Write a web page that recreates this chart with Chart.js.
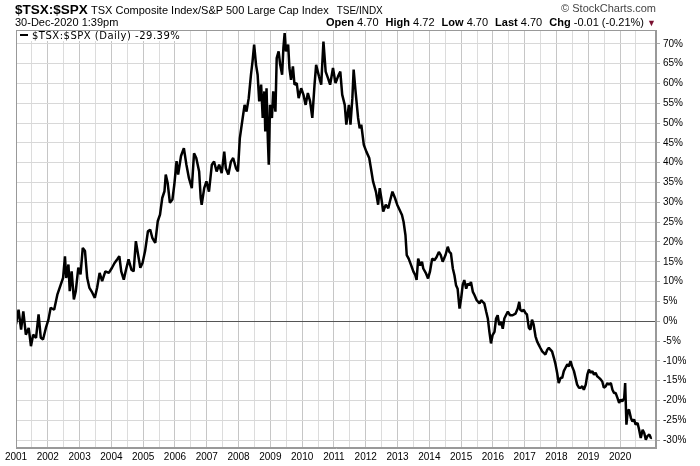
<!DOCTYPE html>
<html>
<head>
<meta charset="utf-8">
<script src="https://cdn.jsdelivr.net/npm/chart.js@4.4.1/dist/chart.umd.min.js"></script>
<style>
  body { margin: 0; background: #fff; }
  #wrap { position: relative; width: 700px; height: 466px; font-family: "Liberation Sans", Arial, sans-serif; color: #000; }
  #wrap div { position: absolute; white-space: nowrap; line-height: 1; }
  .sym { left: 15px; top: 2.5px; font-size: 13.5px; font-weight: bold; }
  .name { left: 91px; top: 4.7px; font-size: 11px; }
  .name small { font-size: 10px; margin-left: 8px; }
  .copy { right: 44px; top: 3px; font-size: 11px; color: #444; }
  .date { left: 15px; top: 17px; font-size: 11px; }
  .quote { right: 44px; top: 17px; font-size: 11px; }
  .quote b { margin-left: 4px; }
  .quote .dn { color: #7a1030; font-size: 9px; }
  .legend { left: 17px; top: 31px; height: 10px; padding-right: 6px; background: #fff;
            font-family: "DejaVu Sans", sans-serif; font-size: 10px; letter-spacing: 0.5px; }
  .legend span { display: inline-block; width: 8px; height: 2px; background: #000; vertical-align: 3px; margin: 0 4px 0 3px; }
</style>
</head>
<body>
<div id="wrap">
  <canvas id="chart" width="700" height="466"></canvas>
  <div class="sym">$TSX:$SPX</div>
  <div class="name">TSX Composite Index/S&amp;P 500 Large Cap Index<small>TSE/INDX</small></div>
  <div class="copy">© StockCharts.com</div>
  <div class="date">30-Dec-2020 1:39pm</div>
  <div class="quote"><b>Open</b> 4.70 <b>High</b> 4.72 <b>Low</b> 4.70 <b>Last</b> 4.70 <b>Chg</b> -0.01 (-0.21%) <span class="dn">▼</span></div>
  <div class="legend"><span></span>$TSX:$SPX (Daily) -29.39%</div>
</div>
<script>
// ratio, % change since start of 2001
const dates = [
  2001.00, 2001.08, 2001.16, 2001.23, 2001.31, 2001.40, 2001.47, 2001.54, 2001.63, 2001.71,
  2001.78, 2001.85, 2001.94, 2002.02, 2002.09, 2002.20, 2002.30, 2002.41, 2002.48, 2002.54,
  2002.58, 2002.65, 2002.69, 2002.75, 2002.82, 2002.88, 2002.96, 2003.03, 2003.10, 2003.17,
  2003.24, 2003.31, 2003.40, 2003.48, 2003.55, 2003.63, 2003.71, 2003.81, 2003.92, 2004.02,
  2004.10, 2004.18, 2004.25, 2004.31, 2004.39, 2004.46, 2004.54, 2004.63, 2004.70, 2004.77,
  2004.83, 2004.91, 2004.98, 2005.06, 2005.15, 2005.22, 2005.29, 2005.38, 2005.46, 2005.53,
  2005.60, 2005.67, 2005.71, 2005.77, 2005.84, 2005.92, 2005.98, 2006.05, 2006.10, 2006.19,
  2006.28, 2006.36, 2006.44, 2006.53, 2006.60, 2006.67, 2006.76, 2006.81, 2006.84, 2006.92,
  2006.99, 2007.07, 2007.16, 2007.23, 2007.31, 2007.39, 2007.47, 2007.55, 2007.60, 2007.68,
  2007.76, 2007.83, 2007.92, 2007.98, 2008.04, 2008.13, 2008.19, 2008.25, 2008.32, 2008.39,
  2008.44, 2008.49, 2008.55, 2008.60, 2008.65, 2008.71, 2008.76, 2008.81, 2008.84, 2008.88,
  2008.92, 2008.95, 2008.99, 2009.05, 2009.09, 2009.16, 2009.20, 2009.26, 2009.31, 2009.37,
  2009.41, 2009.45, 2009.49, 2009.56, 2009.60, 2009.65, 2009.71, 2009.76, 2009.83, 2009.89,
  2009.97, 2010.04, 2010.11, 2010.18, 2010.25, 2010.32, 2010.39, 2010.44, 2010.53, 2010.60,
  2010.67, 2010.74, 2010.81, 2010.88, 2010.97, 2011.05, 2011.13, 2011.20, 2011.26, 2011.34,
  2011.39, 2011.47, 2011.52, 2011.58, 2011.62, 2011.68, 2011.76, 2011.81, 2011.86, 2011.94,
  2012.02, 2012.11, 2012.18, 2012.23, 2012.32, 2012.39, 2012.44, 2012.49, 2012.55, 2012.63,
  2012.71, 2012.76, 2012.84, 2012.92, 2012.99, 2013.14, 2013.19, 2013.25, 2013.29, 2013.35,
  2013.43, 2013.50, 2013.56, 2013.60, 2013.65, 2013.71, 2013.77, 2013.81, 2013.90, 2013.96,
  2014.02, 2014.09, 2014.16, 2014.23, 2014.30, 2014.36, 2014.42, 2014.51, 2014.58, 2014.63,
  2014.68, 2014.74, 2014.79, 2014.84, 2014.89, 2014.95, 2015.00, 2015.05, 2015.10, 2015.16,
  2015.21, 2015.26, 2015.31, 2015.37, 2015.42, 2015.49, 2015.58, 2015.63, 2015.68, 2015.73,
  2015.79, 2015.84, 2015.89, 2015.94, 2015.99, 2016.05, 2016.10, 2016.15, 2016.20, 2016.26,
  2016.31, 2016.36, 2016.41, 2016.47, 2016.54, 2016.62, 2016.71, 2016.78, 2016.83, 2016.86,
  2016.92, 2016.97, 2017.02, 2017.07, 2017.13, 2017.18, 2017.23, 2017.28, 2017.34, 2017.39,
  2017.44, 2017.49, 2017.55, 2017.60, 2017.65, 2017.71, 2017.76, 2017.81, 2017.86, 2017.92,
  2017.97, 2018.02, 2018.07, 2018.13, 2018.18, 2018.23, 2018.28, 2018.34, 2018.39, 2018.44,
  2018.49, 2018.55, 2018.60, 2018.65, 2018.71, 2018.76, 2018.81, 2018.86, 2018.92, 2018.97,
  2019.02, 2019.07, 2019.13, 2019.18, 2019.23, 2019.28, 2019.34, 2019.39, 2019.44, 2019.49,
  2019.55, 2019.60, 2019.65, 2019.71, 2019.76, 2019.81, 2019.86, 2019.92, 2019.97, 2020.02,
  2020.07, 2020.13, 2020.16, 2020.20, 2020.24, 2020.28, 2020.34, 2020.39, 2020.44, 2020.49,
  2020.55, 2020.60, 2020.65, 2020.71, 2020.76, 2020.81, 2020.86, 2020.92, 2020.97, 2020.99
];
const values = [
  -0.8, 2.9, -2.1, 2.5, -3.4, -1.7, -6.3, -3.4, -4.2, 1.7,
  -4.2, -4.6, -1.7, 0.4, 3.4, 2.9, 6.7, 9.3, 10.9, 16.4,
  10.9, 14.3, 7.6, 12.6, 5.5, 7.6, 13.5, 11.8, 18.5, 17.7,
  10.9, 8.4, 7.2, 5.9, 8.4, 12.2, 10.1, 12.6, 12.2, 13.5,
  14.7, 15.6, 16.4, 12.6, 10.5, 13.0, 15.6, 13.0, 12.6, 20.2,
  17.3, 13.5, 14.7, 17.7, 22.7, 23.1, 21.0, 19.8, 25.3, 26.9,
  31.1, 32.8, 37.0, 34.9, 29.9, 30.7, 34.5, 40.4, 37.0, 41.7,
  43.7, 39.5, 36.1, 33.6, 42.4, 41.2, 37.8, 31.1, 29.4, 33.6,
  35.3, 32.7, 39.5, 40.3, 37.8, 39.5, 37.4, 42.8, 38.6, 37.0,
  40.3, 41.2, 38.6, 37.8, 46.2, 51.3, 54.6, 52.9, 56.3, 62.2,
  65.6, 69.8, 64.7, 62.2, 55.5, 59.7, 51.3, 58.0, 47.9, 58.8,
  46.2, 39.5, 54.6, 51.3, 58.0, 52.9, 66.4, 68.1, 64.7, 62.2,
  68.9, 72.7, 68.1, 69.8, 63.9, 60.9, 64.3, 59.7, 60.1, 56.3,
  58.8, 57.2, 54.6, 57.6, 55.5, 51.3, 59.7, 64.7, 61.8, 59.7,
  70.6, 63.0, 61.4, 59.7, 63.9, 60.1, 61.8, 63.0, 57.2, 54.6,
  49.6, 54.6, 49.6, 56.3, 63.5, 58.0, 51.3, 48.7, 49.6, 44.5,
  42.8, 41.2, 37.8, 35.3, 32.7, 29.4, 33.6, 31.1, 27.7, 29.4,
  28.5, 30.2, 32.7, 31.1, 29.4, 26.8, 25.1, 21.7, 16.7, 15.8,
  14.1, 12.5, 11.6, 10.4, 15.8, 14.1, 15.0, 13.3, 12.0, 10.8,
  12.5, 15.8, 15.4, 16.2, 17.5, 16.7, 15.0, 16.7, 18.8, 17.5,
  17.1, 13.3, 11.6, 9.1, 8.2, 3.2, 5.7, 9.1, 10.4, 8.2,
  9.5, 9.1, 9.9, 7.4, 6.6, 5.3, 4.5, 5.3, 4.9, 4.5,
  2.4, 0.7, -2.7, -5.6, -3.5, -2.7, 0.7, 1.5, -1.0, -0.2,
  -1.9, 0.7, 1.5, 2.4, 1.5, 1.5, 1.9, 3.2, 4.9, 2.9,
  2.5, 2.9, 2.1, 1.7, -1.7, -2.1, 0.4, -0.8, -3.8, -5.1,
  -5.9, -6.7, -7.6, -8.0, -8.4, -7.2, -6.7, -7.2, -7.6, -9.3,
  -10.9, -13.0, -15.6, -14.3, -14.3, -12.6, -11.8, -10.9, -11.4, -10.1,
  -11.4, -12.6, -14.3, -16.0, -16.8, -16.8, -16.4, -17.3, -16.0, -13.5,
  -12.2, -13.0, -12.6, -13.5, -13.0, -13.9, -14.3, -14.7, -15.2, -16.8,
  -16.4, -15.6, -16.0, -15.6, -17.3, -18.1, -18.1, -19.4, -20.6, -19.8,
  -20.2, -19.4, -15.6, -26.1, -22.7, -22.3, -24.4, -25.3, -24.8, -26.1,
  -25.7, -27.4, -29.5, -27.4, -28.2, -29.9, -29.0, -28.6, -29.5, -29.39
];
const firstYear = 2001;
const lastYear = 2020;
const yTicksMin = -30;
const yTicksMax = 70;

const points = dates.map((d, i) => ({ x: d, y: values[i] }));

// outline of the plot box (top + left, the axes draw bottom + right)
const frame = {
  id: "frame",
  afterDraw(chart) {
    const a = chart.chartArea, ctx = chart.ctx;
    ctx.save();
    ctx.strokeStyle = "#999";
    ctx.lineWidth = 1;
    ctx.strokeRect(a.left + 0.5, a.top + 0.5, a.right - a.left - 1, a.bottom - a.top - 1);
    ctx.restore();
  }
};

new Chart(document.getElementById("chart"), {
  type: "line",
  data: {
    datasets: [{
      data: points,
      borderColor: "#000",
      borderWidth: 2.5,
      borderJoinStyle: "bevel",
      pointRadius: 0,
      tension: 0
    }]
  },
  options: {
    responsive: false,
    animation: false,
    layout: { padding: { top: 30, left: 16, right: 0, bottom: 0 } },
    plugins: { legend: { display: false }, tooltip: { enabled: false } },
    scales: {
      x: {
        type: "linear",
        min: firstYear,
        max: 2021.13,
        afterFit(scale) { scale.height = 18; },
        border: { color: "#999" },
        grid: {
          color: (c) => Number.isInteger(c.tick.value) ? "#c6c6c6" : "#dcdcdc",
          drawTicks: false
        },
        ticks: {
          stepSize: 0.5,
          autoSkip: false,
          maxRotation: 0,
          padding: 3,
          color: "#000",
          font: { family: "Liberation Sans, Arial", size: 10 },
          callback: (v) => (Number.isInteger(v) && v <= lastYear) ? String(v) : ""
        }
      },
      y: {
        position: "right",
        min: -32,
        max: 73.5,
        afterFit(scale) { scale.width = 44; },
        border: { color: "#999" },
        grid: {
          color: (c) => c.tick.value === 0 ? "#555" : "#d8d8d8",
          tickColor: "#aaa",
          tickLength: 4
        },
        ticks: {
          stepSize: 5,
          includeBounds: false,
          padding: 3,
          color: "#000",
          font: { family: "Liberation Sans, Arial", size: 10 },
          callback: (v) => (v >= yTicksMin && v <= yTicksMax) ? v + "%" : ""
        }
      }
    }
  },
  plugins: [frame]
});
</script>
</body>
</html>
